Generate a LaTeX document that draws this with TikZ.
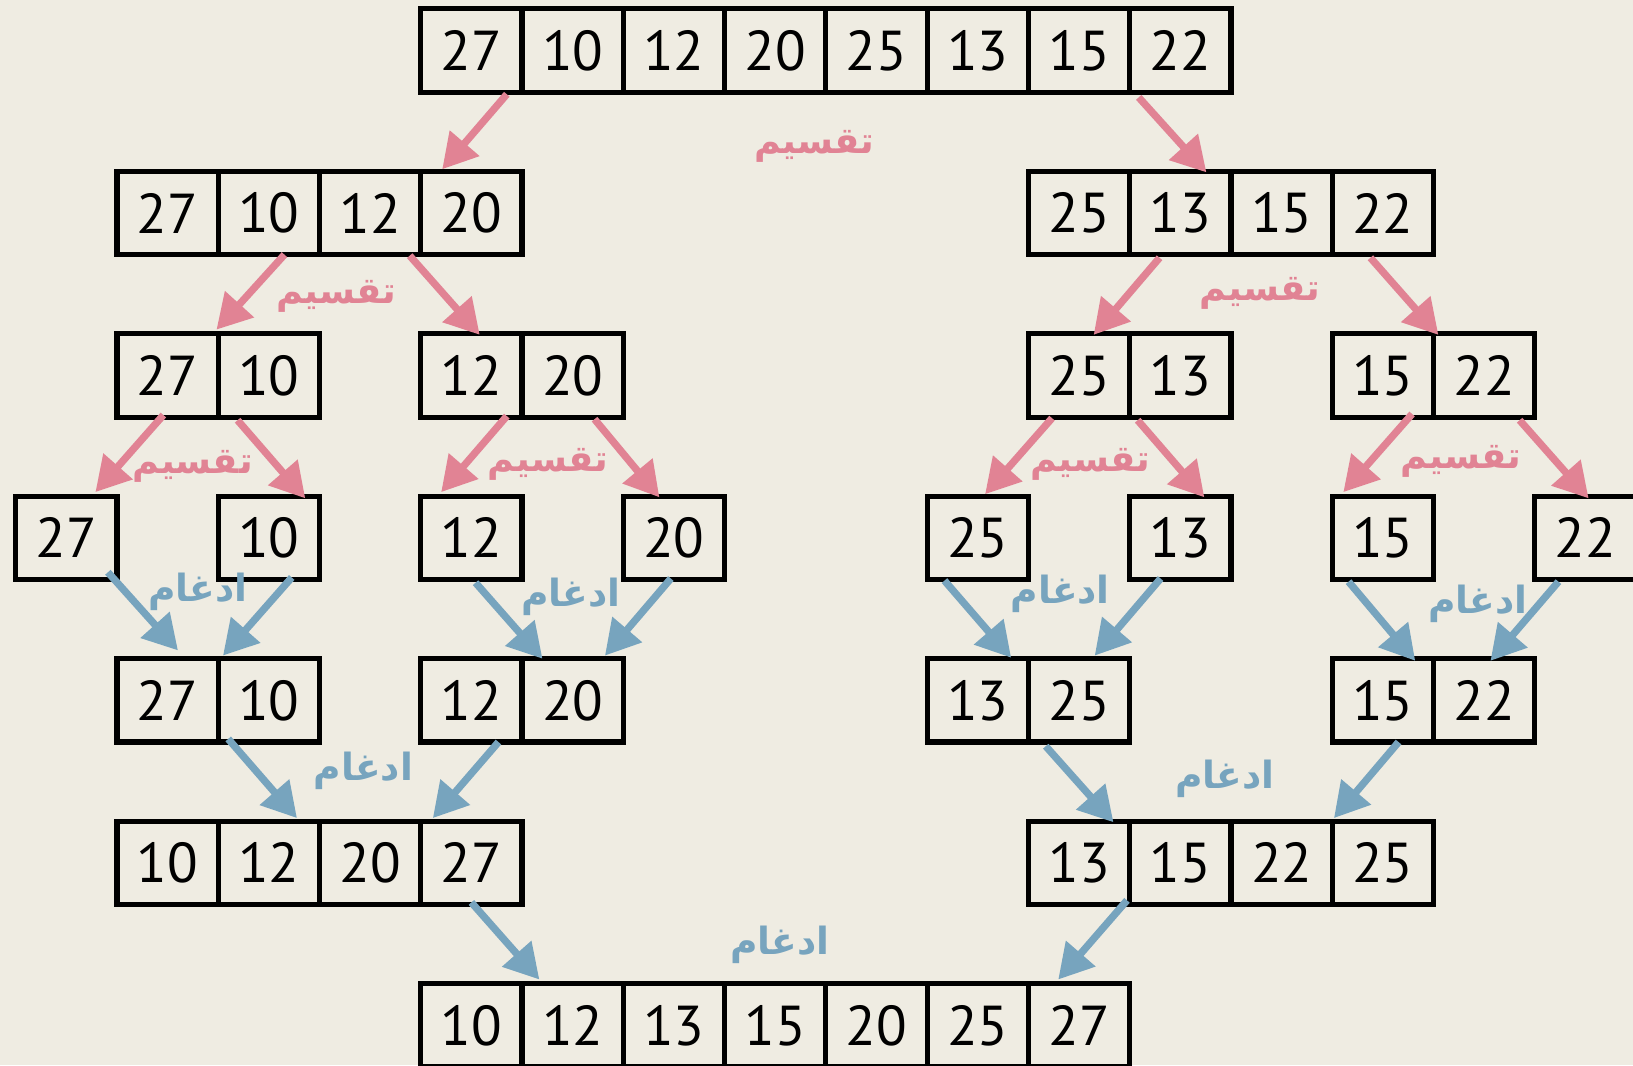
\documentclass[tikz,border=0pt]{standalone}
\usepackage{fontspec}
\setmainfont{PT Sans}
\newfontfamily\arabicfont[Script=Arabic]{DejaVu Sans Bold}
\TeXXeTstate=1
\usetikzlibrary{arrows.meta,calc}
\definecolor{bgc}{HTML}{EFECE2}
\definecolor{splitc}{HTML}{E18394}
\definecolor{mergec}{HTML}{77A4BE}
\newcommand\arr[7]{\draw[#1] ($(#2.south)+(#3,#4)$) -- ($(#5.north)+(#6,#7)$);}
\begin{document}
\begin{tikzpicture}[x=1pt,y=-1pt,
  cell/.style={draw=black, line width=5pt, minimum width=97.25pt, minimum height=80pt,
    inner sep=0pt, outer sep=0pt, font=\fontsize{54}{60}\selectfont},
  splitarrow/.style={draw=splitc, line width=7pt, -{Triangle[length=33pt,width=36pt]}},
  mergearrow/.style={draw=mergec, line width=7pt, -{Triangle[length=33pt,width=36pt]}},
  splitlabel/.style={text=splitc, font=\arabicfont\fontsize{35}{42}\selectfont, inner sep=0pt},
  mergelabel/.style={text=mergec, font=\arabicfont\fontsize{36}{42}\selectfont, inner sep=0pt}]
\fill[bgc] (0,0) rectangle (1568,1023);
\useasboundingbox (0,0) rectangle (1568,1023);
% row 1
\foreach \k/\v in {4/27,5/10,6/12,7/20,8/25,9/13,10/15,11/22}
  \node[cell] (c1-\k) at ({63.625+97.25*\k},48.5) {\v};
% row 2
\foreach \k/\v in {1/27,2/10,3/12,4/20,10/25,11/13,12/15,13/22}
  \node[cell] (c2-\k) at ({63.625+97.25*\k},204.5) {\v};
% row 3
\foreach \k/\v in {1/27,2/10,4/12,5/20,10/25,11/13,13/15,14/22}
  \node[cell] (c3-\k) at ({63.625+97.25*\k},360.5) {\v};
% row 4
\foreach \k/\v in {0/27,2/10,4/12,6/20,9/25,11/13,13/15,15/22}
  \node[cell] (c4-\k) at ({63.625+97.25*\k},516.5) {\v};
% row 5
\foreach \k/\v in {1/27,2/10,4/12,5/20,9/13,10/25,13/15,14/22}
  \node[cell] (c5-\k) at ({63.625+97.25*\k},672.5) {\v};
% row 6
\foreach \k/\v in {1/10,2/12,3/20,4/27,10/13,11/15,12/22,13/25}
  \node[cell] (c6-\k) at ({63.625+97.25*\k},828.5) {\v};
% row 7
\foreach \k/\v in {4/10,5/12,6/13,7/15,8/20,9/25,10/27}
  \node[cell] (c7-\k) at ({63.625+97.25*\k},984.5) {\v};
% split arrows
\arr{splitarrow}{c1-4}{34}{2}{c2-4}{-28}{-2}
\arr{splitarrow}{c1-11}{-40}{5}{c2-11}{25}{1}
\arr{splitarrow}{c2-2}{15}{0}{c3-1}{47}{-4}
\arr{splitarrow}{c2-3}{38}{1}{c3-4}{8}{1}
\arr{splitarrow}{c2-11}{-20}{3}{c3-10}{14}{1}
\arr{splitarrow}{c2-13}{-12}{3}{c3-14}{-44}{1}
\arr{splitarrow}{c3-1}{-4}{-2}{c4-0}{28}{-4}
\arr{splitarrow}{c3-2}{-30}{3}{c4-2}{35}{2}
\arr{splitarrow}{c3-4}{34}{-1}{c4-4}{-29}{-4}
\arr{splitarrow}{c3-5}{21}{2}{c4-6}{-14}{1}
\arr{splitarrow}{c3-10}{-26}{1}{c4-9}{7}{-2}
\arr{splitarrow}{c3-11}{-41}{3}{c4-11}{23}{1}
\arr{splitarrow}{c3-13}{28}{-3}{c4-13}{-38}{-4}
\arr{splitarrow}{c3-14}{34}{3}{c4-15}{3}{2}
% merge arrows
\arr{mergearrow}{c4-0}{40}{-7}{c5-1}{10}{-8}
\arr{mergearrow}{c4-2}{22}{-2}{c5-2}{-44}{-3}
\arr{mergearrow}{c4-4}{4}{3}{c5-5}{-29}{0}
\arr{mergearrow}{c4-6}{-3}{-1}{c5-5}{31}{-3}
\arr{mergearrow}{c4-9}{-32}{1}{c5-9}{32}{-1}
\arr{mergearrow}{c4-11}{-19}{-1}{c5-10}{15}{-3}
\arr{mergearrow}{c4-13}{-33}{2}{c5-13}{31}{2}
\arr{mergearrow}{c4-15}{-26}{2}{c5-14}{6}{2}
\arr{mergearrow}{c5-2}{-39}{-3}{c6-2}{27}{-3}
\arr{mergearrow}{c5-4}{26}{0}{c6-4}{-37}{-3}
\arr{mergearrow}{c5-10}{-32}{4}{c6-10}{33}{1}
\arr{mergearrow}{c5-13}{15}{0}{c6-13}{-47}{-3}
\arr{mergearrow}{c6-4}{0}{-2}{c7-5}{-32}{-4}
\arr{mergearrow}{c6-10}{46}{-4}{c7-10}{-20}{-4}
% labels
\node[splitlabel] (s1) at (782,141) {\beginR تقسيم\endR};
\node[splitlabel] (s2) at (323,285) {\beginR تقسيم\endR};
\node[splitlabel] (s3) at (1210,282) {\beginR تقسيم\endR};
\node[splitlabel] (s4) at (185,448) {\beginR تقسيم\endR};
\node[splitlabel] (s5) at (526,446) {\beginR تقسيم\endR};
\node[splitlabel] (s6) at (1047,446) {\beginR تقسيم\endR};
\node[splitlabel] (s7) at (1403,443) {\beginR تقسيم\endR};
\node[mergelabel] (m1) at (190,568) {\beginR ادغام\endR};
\node[mergelabel] (m2) at (548,573) {\beginR ادغام\endR};
\node[mergelabel] (m3) at (1018,570) {\beginR ادغام\endR};
\node[mergelabel] (m4) at (1419,580) {\beginR ادغام\endR};
\node[mergelabel] (m5) at (349,740) {\beginR ادغام\endR};
\node[mergelabel] (m6) at (1176,748) {\beginR ادغام\endR};
\node[mergelabel] (m7) at (749,907) {\beginR ادغام\endR};
\end{tikzpicture}
\end{document}
